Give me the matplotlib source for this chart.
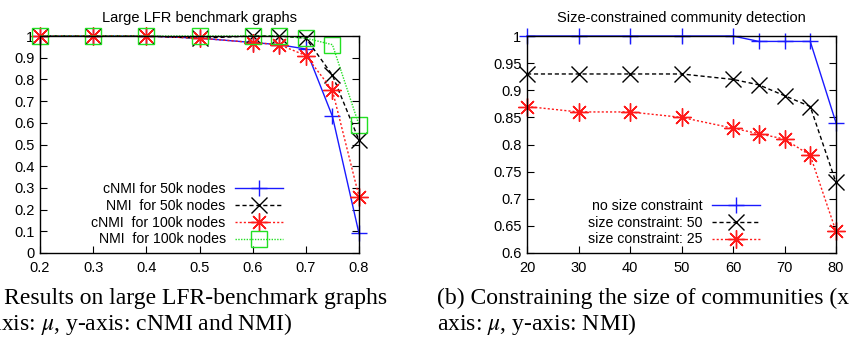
import matplotlib
matplotlib.use("Agg")
import matplotlib.pyplot as plt
from matplotlib.ticker import FixedLocator

plt.rcParams['font.family'] = ['Liberation Sans', 'DejaVu Sans']
plt.rcParams['mathtext.fontset'] = 'stix'

# ---- data: left panel ----
mu = [0.2, 0.3, 0.4, 0.5, 0.6, 0.65, 0.7, 0.75, 0.8]
cnmi_50k = [1.0, 1.0, 1.0, 0.99, 0.97, 0.96, 0.94, 0.63, 0.09]
nmi_50k = [1.0, 1.0, 1.0, 0.99, 1.0, 1.0, 0.99, 0.82, 0.52]
cnmi_100k = [1.0, 1.0, 1.0, 0.99, 0.97, 0.96, 0.91, 0.75, 0.26]
nmi_100k = [1.0, 1.0, 1.0, 1.0, 1.0, 1.0, 0.99, 0.96, 0.59]
left_labels = ["cNMI for 50k nodes", "NMI  for 50k nodes",
               "cNMI  for 100k nodes", "NMI  for 100k nodes"]
left_xticks = [0.2, 0.3, 0.4, 0.5, 0.6, 0.7, 0.8]
left_yticks = [0, 0.1, 0.2, 0.3, 0.4, 0.5, 0.6, 0.7, 0.8, 0.9, 1]
left_yticklabels = ["0", "0.1", "0.2", "0.3", "0.4", "0.5", "0.6", "0.7", "0.8", "0.9", "1"]

# ---- data: right panel ----
mu2 = [20, 30, 40, 50, 60, 65, 70, 75, 80]
no_constraint = [1.0, 1.0, 1.0, 1.0, 1.0, 0.99, 0.99, 0.99, 0.84]
constraint_50 = [0.93, 0.93, 0.93, 0.93, 0.92, 0.91, 0.89, 0.87, 0.73]
constraint_25 = [0.87, 0.86, 0.86, 0.85, 0.83, 0.82, 0.81, 0.78, 0.64]
right_labels = ["no size constraint", "size constraint: 50", "size constraint: 25"]
right_xticks = [20, 30, 40, 50, 60, 70, 80]
right_yticks = [0.6, 0.65, 0.7, 0.75, 0.8, 0.85, 0.9, 0.95, 1.0]
right_yticklabels = ["0.6", "0.65", "0.7", "0.75", "0.8", "0.85", "0.9", "0.95", "1"]

BLUE = '#1a1aff'
BLACK = '#000000'
RED = '#ff1a1a'
GREEN = '#22e022'
STAR = (8, 2, 0)

fig = plt.figure(figsize=(8.5, 3.47), dpi=100)
ax1 = fig.add_axes([40/850, 94/347, 319/850, 217/347])
ax2 = fig.add_axes([527/850, 94/347, 309/850, 217/347])

common = dict(clip_on=False, markeredgewidth=1.0, linewidth=1.0)
ax1.plot(mu, cnmi_50k, color=BLUE, linestyle='-', marker='+', markersize=12,
         label=left_labels[0], **common)
ax1.plot(mu, nmi_50k, color=BLACK, linestyle=(0, (3, 2)), marker='x', markersize=11,
         label=left_labels[1], **common)
ax1.plot(mu, cnmi_100k, color=RED, linestyle=(0, (1.5, 1.5)), marker=STAR, markersize=13,
         label=left_labels[2], **common)
ax1.plot(mu, nmi_100k, color=GREEN, linestyle=(0, (1, 1)), marker='s', markersize=11,
         fillstyle='none', label=left_labels[3], **common)
ax1.set_xlim(0.2, 0.8)
ax1.set_ylim(0, 1)
ax1.xaxis.set_major_locator(FixedLocator(left_xticks))
ax1.set_xticklabels([f"{v:.1f}" for v in left_xticks])
ax1.yaxis.set_major_locator(FixedLocator(left_yticks))
ax1.set_yticklabels(left_yticklabels)
ax1.set_title("Large LFR benchmark graphs", fontsize=10.5, pad=10)

ax2.plot(mu2, no_constraint, color=BLUE, linestyle='-', marker='+', markersize=12,
         label=right_labels[0], **common)
ax2.plot(mu2, constraint_50, color=BLACK, linestyle=(0, (3, 2)), marker='x', markersize=11,
         label=right_labels[1], **common)
ax2.plot(mu2, constraint_25, color=RED, linestyle=(0, (1.5, 1.5)), marker=STAR, markersize=13,
         label=right_labels[2], **common)
ax2.set_xlim(20, 80)
ax2.set_ylim(0.6, 1.0)
ax2.xaxis.set_major_locator(FixedLocator(right_xticks))
ax2.set_xticklabels([str(v) for v in right_xticks])
ax2.yaxis.set_major_locator(FixedLocator(right_yticks))
ax2.set_yticklabels(right_yticklabels)
ax2.set_title("Size-constrained community detection", fontsize=10.5, pad=10)

for ax in (ax1, ax2):
    ax.tick_params(direction='in', length=5, width=0.8, top=True, right=True,
                   labelsize=10.5, pad=4)
    ax.tick_params(axis='x', pad=6)
    for s in ax.spines.values():
        s.set_linewidth(1.0)

legkw = dict(loc='lower right', markerfirst=False, frameon=False, fontsize=10.2,
             handlelength=3.4, handletextpad=0.65, labelspacing=0.2,
             borderpad=0, borderaxespad=0)
ax1.legend(bbox_to_anchor=(0.762, 0.03), **legkw)
ax2.legend(bbox_to_anchor=(0.754, 0.03), **legkw)

cap = dict(fontsize=17, family=['Liberation Serif', 'DejaVu Serif'], va='baseline')
fig.text(387/850, 1 - 304/347, "(a) Results on large LFR-benchmark graphs", ha='right', **cap)
fig.text(293/850, 1 - 330/347, "(x-axis: $\\mu$, y-axis: cNMI and NMI)", ha='right', **cap)
fig.text(437/850, 1 - 304/347, "(b) Constraining the size of communities (x-", ha='left', **cap)
fig.text(437/850, 1 - 330/347, "axis: $\\mu$, y-axis: NMI)", ha='left', **cap)

fig.savefig("out.png", dpi=100)
